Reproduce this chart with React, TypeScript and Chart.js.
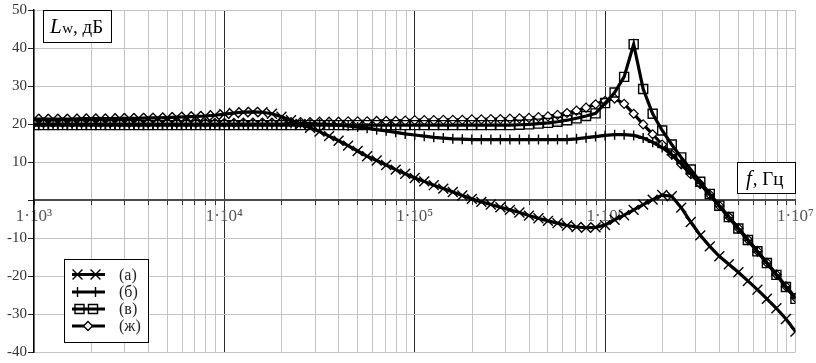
import { useEffect, useRef } from 'react';
import { Chart, registerables } from 'chart.js';
Chart.register(...registerables);

const freqs = [
  1000, 1122, 1259, 1413, 1585, 1778, 1995, 2239, 2512, 2818, 3162, 3548, 3981, 4467, 5012, 5623, 6310, 7079, 7943, 8913,
  10000, 11220, 12590, 14130, 15850, 17780, 19950, 22390, 25120, 28180, 31620, 35480, 39810, 44670, 50120, 56230, 63100, 70790, 79430, 89130,
  100000, 112200, 125900, 141300, 158500, 177800, 199500, 223900, 251200, 281800, 316200, 354800, 398100, 446700, 501200, 562300, 631000, 707900, 794300, 891300,
  1000000, 1122000, 1259000, 1413000, 1585000, 1778000, 1995000, 2239000, 2512000, 2818000, 3162000, 3548000, 3981000, 4467000, 5012000, 5623000, 6310000, 7079000, 7943000, 8913000,
  10000000,
];

const seriesA = [
  21.3, 21.3, 21.3, 21.3, 21.3, 21.4, 21.4, 21.4, 21.4, 21.5,
  21.5, 21.5, 21.6, 21.6, 21.7, 21.8, 21.9, 22.0, 22.1, 22.3,
  22.6, 22.9, 23.1, 23.2, 23.1, 22.7, 21.9, 21.0, 20.0, 19.0,
  18.0, 16.8, 15.6, 14.3, 12.9, 11.5, 10.4, 9.2, 8.0, 6.9,
  5.8, 4.9, 3.9, 3.0, 2.1, 1.2, 0.3, -0.5, -1.2, -1.9,
  -2.6, -3.3, -4.1, -4.8, -5.5, -6.1, -6.7, -7.1, -7.3, -7.2,
  -6.6, -5.2, -4.0, -2.6, -1.2, 0.1, 1.3, 1.0, -2.0, -5.8,
  -9.3, -12.2, -14.8, -16.9, -19.0, -21.3, -23.6, -26.0, -28.5, -31.3,
  -34.6,
];

const seriesB = [
  20.0, 20.0, 20.0, 20.0, 20.0, 20.0, 20.0, 20.0, 20.0, 20.0,
  20.0, 20.0, 20.0, 20.0, 20.0, 20.0, 20.0, 20.0, 20.0, 20.0,
  20.0, 20.0, 20.0, 20.0, 20.0, 20.0, 20.0, 20.1, 20.1, 20.1,
  20.0, 19.9, 19.7, 19.5, 19.2, 18.9, 18.5, 18.2, 17.8, 17.4,
  17.1, 16.8, 16.5, 16.3, 16.1, 16.0, 15.9, 15.9, 15.9, 15.9,
  15.9, 15.9, 15.9, 15.9, 15.9, 15.9, 15.9, 16.1, 16.4, 16.7,
  17.0, 17.2, 17.2, 17.0, 16.3, 15.2, 13.8, 11.9, 9.6, 7.0,
  4.3, 1.4, -1.6, -4.6, -7.6, -10.6, -13.6, -16.6, -19.7, -22.8,
  -25.8,
];

const seriesC = [
  19.7, 19.7, 19.7, 19.7, 19.7, 19.7, 19.7, 19.7, 19.7, 19.7,
  19.7, 19.7, 19.7, 19.7, 19.7, 19.7, 19.7, 19.7, 19.7, 19.7,
  19.7, 19.7, 19.7, 19.7, 19.7, 19.7, 19.7, 19.7, 19.7, 19.7,
  19.7, 19.7, 19.7, 19.7, 19.7, 19.7, 19.7, 19.7, 19.7, 19.7,
  19.7, 19.7, 19.7, 19.7, 19.7, 19.7, 19.7, 19.7, 19.7, 19.7,
  19.7, 19.8, 19.9, 20.1, 20.3, 20.6, 21.0, 21.5, 22.1, 22.8,
  25.5, 28.3, 32.4, 41.0, 29.2, 22.7, 18.3, 14.6, 11.2, 8.0,
  4.8, 1.6, -1.5, -4.5, -7.5, -10.5, -13.5, -16.6, -19.7, -22.9,
  -26.0,
];

const seriesD = [
  20.3, 20.3, 20.3, 20.3, 20.3, 20.3, 20.3, 20.3, 20.3, 20.3,
  20.3, 20.3, 20.3, 20.3, 20.3, 20.3, 20.3, 20.3, 20.3, 20.3,
  20.3, 20.3, 20.4, 20.4, 20.4, 20.4, 20.5, 20.5, 20.5, 20.5,
  20.6, 20.6, 20.6, 20.7, 20.7, 20.7, 20.8, 20.8, 20.8, 20.9,
  21.0, 21.0, 21.0, 21.1, 21.1, 21.1, 21.2, 21.2, 21.3, 21.3,
  21.4, 21.5, 21.6, 21.8, 22.0, 22.4, 22.9, 23.5, 24.3, 25.2,
  26.1, 26.7, 25.3, 22.7, 19.9, 17.3, 14.6, 12.0, 9.4, 6.8,
  4.2, 1.4, -1.5, -4.4, -7.4, -10.4, -13.4, -16.5, -19.6, -22.7,
  -25.7,
];

const xMantissas = [1, 2, 3, 4, 5, 6, 7, 8, 9];
const xDecades = [1e3, 1e4, 1e5, 1e6];
const xMax = 1e7;
const xDecadeLabels: Record<number, string> = {
  1000: '1·10³',
  10000: '1·10⁴',
  100000: '1·10⁵',
  1000000: '1·10⁶',
  10000000: '1·10⁷',
};
const yMin = -40;
const yMax = 50;
const legendLabels = ['(а)', '(б)', '(в)', '(ж)'];
const yTitle = { main: 'L', sub: 'w', rest: ', дБ' };
const xTitle = { main: 'f', rest: ', Гц' };

const SERIF = "'Liberation Serif', 'Times New Roman', serif";

type Mk = 'crossRot' | 'cross' | 'rect' | 'rectRot';

function drawMarker(ctx: CanvasRenderingContext2D, style: Mk, x: number, y: number, r: number, fill: string) {
  ctx.save();
  ctx.strokeStyle = '#000';
  ctx.lineWidth = 1.4;
  ctx.beginPath();
  if (style === 'crossRot') {
    const o = Math.SQRT1_2 * r;
    ctx.moveTo(x - o, y - o); ctx.lineTo(x + o, y + o);
    ctx.moveTo(x - o, y + o); ctx.lineTo(x + o, y - o);
    ctx.stroke();
  } else if (style === 'cross') {
    ctx.moveTo(x - r, y); ctx.lineTo(x + r, y);
    ctx.moveTo(x, y - r); ctx.lineTo(x, y + r);
    ctx.stroke();
  } else if (style === 'rect') {
    const s = Math.SQRT1_2 * r;
    ctx.rect(x - s, y - s, 2 * s, 2 * s);
    if (fill !== 'transparent') { ctx.fillStyle = fill; ctx.fill(); }
    ctx.stroke();
  } else {
    ctx.moveTo(x - r, y); ctx.lineTo(x, y - r); ctx.lineTo(x + r, y); ctx.lineTo(x, y + r);
    ctx.closePath();
    ctx.fillStyle = fill; ctx.fill();
    ctx.stroke();
  }
  ctx.restore();
}

const overlayPlugin = {
  id: 'overlayBoxes',
  afterDraw(chart: any) {
    const ctx: CanvasRenderingContext2D = chart.ctx;
    ctx.save();
    // Y title box
    ctx.fillStyle = '#fff';
    ctx.strokeStyle = '#000';
    ctx.lineWidth = 1;
    ctx.fillRect(43.5, 10.5, 68, 32);
    ctx.strokeRect(43.5, 10.5, 68, 32);
    ctx.fillStyle = '#000';
    ctx.textBaseline = 'alphabetic';
    ctx.textAlign = 'left';
    let x = 50;
    ctx.font = `italic 21px ${SERIF}`;
    ctx.fillText(yTitle.main, x, 33);
    x += ctx.measureText(yTitle.main).width + 0.5;
    ctx.font = `15px ${SERIF}`;
    ctx.fillText(yTitle.sub, x, 33);
    x += ctx.measureText(yTitle.sub).width;
    ctx.font = `19px ${SERIF}`;
    ctx.fillText(yTitle.rest, x, 33);

    // X title box
    ctx.fillStyle = '#fff';
    ctx.fillRect(737.5, 162.5, 58, 31);
    ctx.strokeRect(737.5, 162.5, 58, 31);
    ctx.fillStyle = '#000';
    x = 746;
    ctx.font = `italic 21px ${SERIF}`;
    ctx.fillText(xTitle.main, x, 185);
    x += ctx.measureText(xTitle.main).width + 1;
    ctx.font = `19px ${SERIF}`;
    ctx.fillText(xTitle.rest, x, 185);

    // Legend
    ctx.fillStyle = '#fff';
    ctx.fillRect(64.5, 259.5, 84, 83);
    ctx.strokeRect(64.5, 259.5, 84, 83);
    const rows = [274.5, 292, 309, 326];
    const ds = chart.data.datasets;
    ds.forEach((d: any, i: number) => {
      const y = rows[i];
      ctx.strokeStyle = '#000';
      ctx.lineWidth = 3.2;
      ctx.beginPath();
      ctx.moveTo(72, y);
      ctx.lineTo(105, y);
      ctx.stroke();
      const style: Mk = d.pointStyle;
      const xs = style === 'rect' ? [79.5, 93] : style === 'rectRot' ? [88] : [77.5, 95.5];
      xs.forEach((mx) => drawMarker(ctx, style, mx, y, d.pointRadius, d.pointBackgroundColor));
      ctx.fillStyle = '#222';
      ctx.font = `16px ${SERIF}`;
      ctx.textBaseline = 'middle';
      ctx.fillText(legendLabels[i], 119, y + 1);
    });
    ctx.restore();
  },
};

function isDecade(v: number) {
  const l = Math.log10(v);
  return Math.abs(l - Math.round(l)) < 1e-9;
}

export default function App() {
  const ref = useRef<HTMLCanvasElement | null>(null);
  useEffect(() => {
    document.body.style.margin = '0';
    const canvas = ref.current;
    if (!canvas) return;
    const mk = (vals: number[]) => freqs.map((f, i) => ({ x: f, y: vals[i] }));
    const xTickValues: number[] = [];
    xDecades.forEach((d) => xMantissas.forEach((m) => xTickValues.push(m * d)));
    xTickValues.push(xMax);

    const chart = new Chart(canvas, {
      type: 'line',
      data: {
        datasets: [
          {
            label: legendLabels[0], data: mk(seriesA), borderColor: '#000', borderWidth: 3.2,
            pointStyle: 'crossRot', pointRadius: 7, pointBorderWidth: 1.4, pointBorderColor: '#000',
            pointBackgroundColor: 'transparent', tension: 0, order: 1,
          },
          {
            label: legendLabels[1], data: mk(seriesB), borderColor: '#000', borderWidth: 3.2,
            pointStyle: 'cross', pointRadius: 5, pointBorderWidth: 1.4, pointBorderColor: '#000',
            pointBackgroundColor: 'transparent', tension: 0, order: 2,
          },
          {
            label: legendLabels[2], data: mk(seriesC), borderColor: '#000', borderWidth: 3.2,
            pointStyle: 'rect', pointRadius: 6.4, pointBorderWidth: 1.4, pointBorderColor: '#000',
            pointBackgroundColor: 'transparent', tension: 0, order: 0,
          },
          {
            label: legendLabels[3], data: mk(seriesD), borderColor: '#000', borderWidth: 3.2,
            pointStyle: 'rectRot', pointRadius: 4.5, pointBorderWidth: 1.2, pointBorderColor: '#000',
            pointBackgroundColor: '#fff', tension: 0, order: 3,
          },
        ] as any,
      },
      options: {
        responsive: false,
        animation: false,
        devicePixelRatio: 1,
        layout: { padding: { left: 0, right: 19, top: 7, bottom: 11 } },
        plugins: { legend: { display: false }, tooltip: { enabled: false }, title: { display: false } },
        events: [],
        scales: {
          x: {
            type: 'logarithmic',
            min: 1e3,
            max: xMax,
            position: { y: 0 } as any,
            afterBuildTicks: (scale: any) => {
              scale.ticks = xTickValues.map((v) => ({ value: v, major: isDecade(v) }));
            },
            grid: {
              color: (c: any) => {
                const v = c.tick ? c.tick.value : 0;
                if (v === xMax || v === 1e3) return '#c4c4c4';
                return isDecade(v) ? '#2a2a2a' : '#c4c4c4';
              },
              lineWidth: 1,
              tickLength: 4,
              tickColor: '#333',
            },
            border: { display: true, color: '#4a4a4a', width: 2 },
            ticks: {
              autoSkip: false,
              maxRotation: 0,
              minRotation: 0,
              padding: 2,
              color: '#555',
              font: { family: SERIF, size: 17 },
              callback: (v: any) => xDecadeLabels[Number(v)] ?? '',
            },
          },
          y: {
            type: 'linear',
            min: yMin,
            max: yMax,
            position: 'left',
            afterFit: (scale: any) => { scale.width = 34; },
            ticks: {
              stepSize: 10,
              padding: 1,
              color: '#333',
              font: { family: SERIF, size: 15 },
              callback: (v: any) => (Number(v) === 0 ? '' : String(v)),
            },
            grid: { color: '#c4c4c4', lineWidth: 1, tickLength: 6, tickColor: '#222' },
            border: { display: true, color: '#000', width: 1.5 },
          },
        },
      } as any,
      plugins: [overlayPlugin],
    });
    return () => chart.destroy();
  }, []);

  return (
    <div style={{ width: 816, height: 363, position: 'relative', background: '#fff' }}>
      <canvas ref={ref} width={816} height={363} style={{ display: 'block' }} />
    </div>
  );
}
